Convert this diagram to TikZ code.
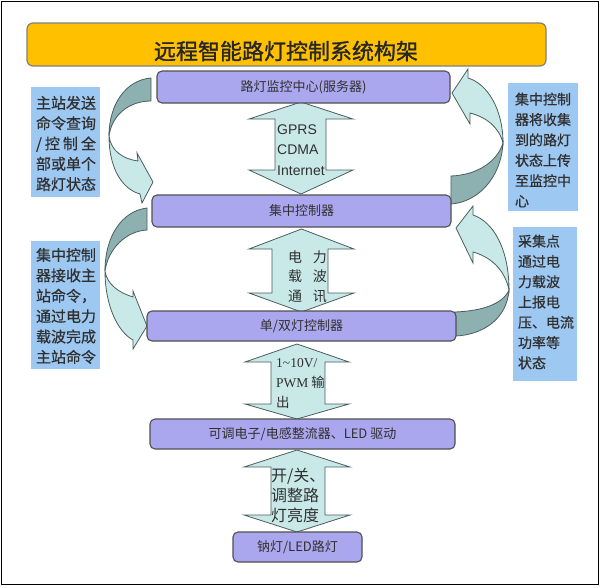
\documentclass[tikz,border=0pt]{standalone}
\usepackage{fontspec}
\setmainfont{Noto Sans CJK SC}
\newfontfamily\boldcjk[FakeBold=1.2]{Noto Sans CJK SC}
\newfontfamily\semicjk[FakeBold=0.6]{Noto Sans CJK SC}
\newfontfamily\arialf{Liberation Sans}
\newfontfamily\timesf{Liberation Serif}
\definecolor{boxfill}{HTML}{ABA7EE}
\definecolor{boxedge}{HTML}{505050}
\definecolor{sidefill}{HTML}{9DC8F2}
\definecolor{arrfill}{HTML}{C9E8E8}
\definecolor{arrdark}{HTML}{8DB0B0}
\definecolor{arredge}{HTML}{4A5E5E}
\definecolor{titlefill}{HTML}{FFC000}
\definecolor{titleedge}{HTML}{808080}
\definecolor{txt}{HTML}{303030}
\newcommand\myDbl[8]{\draw[blk] ({(#1+#4)/2},#5) -- (#4,#6) -- (#3,#6) -- (#3,#7) -- (#4,#7) -- ({(#1+#4)/2},#8) -- (#1,#7) -- (#2,#7) -- (#2,#6) -- (#1,#6) -- cycle;}
\begin{document}
\begin{tikzpicture}[x=1pt,y=-1pt,
  box/.style={draw=boxedge, fill=boxfill, rounded corners=5pt, line width=1.1pt, inner sep=0pt, text=txt, font=\fontsize{13}{15}\selectfont},
  side/.style={fill=sidefill, inner sep=0pt},
  sidetext/.style={align=left, inner sep=0pt, text=txt},
  blk/.style={fill=arrfill, draw=arredge, line width=0.8pt, line join=miter},
  dark/.style={fill=arrdark, draw=arredge, line width=0.8pt},
  lbl/.style={align=left, inner sep=0pt, text=txt, anchor=west}]
\useasboundingbox (0,0) rectangle (600,587);
\draw[line width=1.3pt] (1.5,1.5) rectangle (598.5,584.5);
% title
\node[draw=titleedge, fill=titlefill, line width=1.2pt, rounded corners=6pt, minimum width=519, minimum height=43, inner sep=0pt] (title) at (286.5,44.5) {};
\node[inner sep=0pt, text=black!85, font=\boldcjk\fontsize{22}{24}\selectfont] (titletext) at (286,51) {远程智能路灯控制系统构架};
% side boxes
\node[side, minimum width=69, minimum height=110] (l1) at (65.5,142) {};
\node[side, minimum width=69, minimum height=128] (l2) at (65.5,305) {};
\node[side, minimum width=70, minimum height=128] (r1) at (543,147) {};
\node[side, minimum width=64, minimum height=154] (r2) at (545,304) {};
\node[sidetext, font=\semicjk\fontsize{15}{20.3}\selectfont] (l1t) at (66,143.5) {主站发送\\命令查询\\\makebox[60pt][s]{/\hfill 控\hfill 制\hfill 全}\\部或单个\\路灯状态};
\node[sidetext, font=\semicjk\fontsize{15}{20.4}\selectfont] (l2t) at (66,306) {集中控制\\器接收主\\站命令，\\通过电力\\载波完成\\主站命令};
\node[sidetext, font=\semicjk\fontsize{14}{20.4}\selectfont] (r1t) at (543,150) {集中控制\\器将收集\\到的路灯\\状态上传\\至监控中\\心};
\node[sidetext, font=\semicjk\fontsize{14}{20.3}\selectfont] (r2t) at (546,302) {采集点\\通过电\\力载波\\上报电\\压、电流\\功率等\\状态};
% curved arrows left
\draw[dark] (151,78) .. controls (126,80) and (109,104) .. (109,136) .. controls (112,114) and (130,101) .. (151,101) -- cycle;
\draw[blk] (109,136) .. controls (109,168) and (122,189) .. (140,194) -- (142,203) -- (153,182) -- (137,153) -- (138,161) .. controls (123,159) and (111,151) .. (109,136) -- cycle;
\draw[dark] (147,208) .. controls (122,211) and (105,236) .. (105,271) .. controls (108,249) and (126,231) .. (147,230) -- cycle;
\draw[blk] (105,271) .. controls (105,306) and (118,332) .. (133,340) -- (133,349) -- (147,326) -- (133,291) -- (133,297) .. controls (120,293) and (107,285) .. (105,271) -- cycle;
% curved arrows right
\draw[blk] (503,143) .. controls (503,110) and (488,84) .. (468,78) -- (468,69) -- (452,93) -- (470,124) -- (470,113) .. controls (486,117) and (499,127) .. (503,143) -- cycle;
\draw[dark] (503,143) .. controls (501,178) and (478,202) .. (451,204) -- (451,176) .. controls (477,175) and (497,162) .. (503,143) -- cycle;
\draw[blk] (509,290) .. controls (509,250) and (494,222) .. (473,215) -- (473,206) -- (456,228) -- (473,263) -- (473,252) .. controls (491,257) and (505,270) .. (509,290) -- cycle;
\draw[dark] (509,290) .. controls (507,318) and (484,335) .. (455,336) -- (455,312) .. controls (482,311) and (503,304) .. (509,290) -- cycle;
% block double arrows
\myDbl{249}{275}{326}{353}{102}{119}{170}{194}
\myDbl{249}{272}{328}{354}{229}{249}{293}{312}
\myDbl{245}{271}{325}{349}{344}{362}{404}{419}
\myDbl{244}{271}{325}{350}{450}{467}{515}{532}
% main boxes
\node[box, minimum width=293, minimum height=32] (b1) at (303.5,87) {路灯监控中心(服务器)};
\node[box, minimum width=299, minimum height=32] (b2) at (301.5,211) {集中控制器};
\node[box, minimum width=309, minimum height=30] (b3) at (301.5,326) {单/双灯控制器};
\node[box, minimum width=305, minimum height=30] (b4) at (302.5,434) {可调电子/电感整流器、LED 驱动};
\node[box, minimum width=129, minimum height=30] (b5) at (297.5,547) {钠灯/LED路灯};
% arrow labels
\node[lbl, font=\arialf\fontsize{14}{20.5}\selectfont] (a1t) at (277,150) {GPRS\\CDMA\\Internet};
\node[inner sep=0pt, text=txt, font=\fontsize{14}{19.5}\selectfont, align=center] (a2t) at (307.5,276.5) {\makebox[39pt][s]{电\hfill 力}\\\makebox[39pt][s]{载\hfill 波}\\\makebox[39pt][s]{通\hfill 讯}};
\node[lbl, font=\fontsize{13.5}{20}\selectfont] (a3t) at (276,384) {{\timesf 1\textasciitilde10V/}\\{\timesf PWM} 输\\出};
\node[lbl, font=\fontsize{16}{20}\selectfont] (a4t) at (271,495) {开/关、\\调整路\\灯亮度};
\end{tikzpicture}
\end{document}
